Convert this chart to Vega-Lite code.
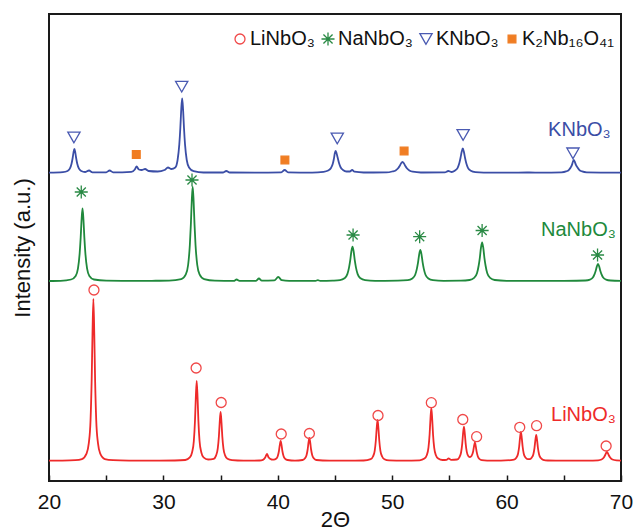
{
  "$schema": "https://vega.github.io/schema/vega-lite/v6.json",
  "width": 572,
  "height": 467,
  "autosize": {"type": "none"},
  "padding": {"left": 49, "top": 14, "right": 12, "bottom": 50},
  "background": "white",
  "config": {
    "font": "Liberation Sans",
    "view": {"stroke": "#1a1a1a", "strokeWidth": 2}
  },
  "datasets": {
    "curves": [
      {"sample":"LiNbO₃","x":20,"y":20.3},{"sample":"LiNbO₃","x":21,"y":20.4},{"sample":"LiNbO₃","x":22.3,"y":20.8},{"sample":"LiNbO₃","x":22.88,"y":21.9},{"sample":"LiNbO₃","x":23.28,"y":27.3},{"sample":"LiNbO₃","x":23.48,"y":37.8},{"sample":"LiNbO₃","x":23.63,"y":60.5},{"sample":"LiNbO₃","x":23.73,"y":101},{"sample":"LiNbO₃","x":23.8,"y":146},{"sample":"LiNbO₃","x":23.88,"y":182},{"sample":"LiNbO₃","x":23.96,"y":146},{"sample":"LiNbO₃","x":24.03,"y":101},{"sample":"LiNbO₃","x":24.13,"y":60.5},{"sample":"LiNbO₃","x":24.28,"y":37.8},{"sample":"LiNbO₃","x":24.48,"y":27.3},{"sample":"LiNbO₃","x":24.88,"y":21.9},{"sample":"LiNbO₃","x":25.6,"y":20.8},{"sample":"LiNbO₃","x":27,"y":20.4},{"sample":"LiNbO₃","x":29,"y":20.3},{"sample":"LiNbO₃","x":31,"y":20.5},{"sample":"LiNbO₃","x":31.91,"y":21},{"sample":"LiNbO₃","x":32.31,"y":23.6},{"sample":"LiNbO₃","x":32.51,"y":28.8},{"sample":"LiNbO₃","x":32.66,"y":40},{"sample":"LiNbO₃","x":32.76,"y":60},{"sample":"LiNbO₃","x":32.83,"y":82.4},{"sample":"LiNbO₃","x":32.91,"y":100},{"sample":"LiNbO₃","x":32.99,"y":82.4},{"sample":"LiNbO₃","x":33.06,"y":60},{"sample":"LiNbO₃","x":33.16,"y":40},{"sample":"LiNbO₃","x":33.31,"y":28.8},{"sample":"LiNbO₃","x":33.51,"y":23.6},{"sample":"LiNbO₃","x":33.91,"y":21.5},{"sample":"LiNbO₃","x":34.4,"y":22.2},{"sample":"LiNbO₃","x":34.6,"y":25.4},{"sample":"LiNbO₃","x":34.75,"y":32.3},{"sample":"LiNbO₃","x":34.85,"y":44.5},{"sample":"LiNbO₃","x":34.92,"y":58.2},{"sample":"LiNbO₃","x":35,"y":69},{"sample":"LiNbO₃","x":35.08,"y":58.2},{"sample":"LiNbO₃","x":35.15,"y":44.5},{"sample":"LiNbO₃","x":35.25,"y":32.3},{"sample":"LiNbO₃","x":35.4,"y":25.4},{"sample":"LiNbO₃","x":35.6,"y":22.2},{"sample":"LiNbO₃","x":36,"y":20.8},{"sample":"LiNbO₃","x":37,"y":20.3},{"sample":"LiNbO₃","x":38.4,"y":20.5},{"sample":"LiNbO₃","x":38.7,"y":21.2},{"sample":"LiNbO₃","x":38.9,"y":23.5},{"sample":"LiNbO₃","x":39.05,"y":27},{"sample":"LiNbO₃","x":39.2,"y":23.5},{"sample":"LiNbO₃","x":39.45,"y":21.5},{"sample":"LiNbO₃","x":39.65,"y":21.3},{"sample":"LiNbO₃","x":39.85,"y":22.2},{"sample":"LiNbO₃","x":40,"y":25},{"sample":"LiNbO₃","x":40.1,"y":30},{"sample":"LiNbO₃","x":40.17,"y":35.6},{"sample":"LiNbO₃","x":40.25,"y":40},{"sample":"LiNbO₃","x":40.33,"y":35.6},{"sample":"LiNbO₃","x":40.4,"y":30},{"sample":"LiNbO₃","x":40.5,"y":25},{"sample":"LiNbO₃","x":40.65,"y":22.2},{"sample":"LiNbO₃","x":40.85,"y":21},{"sample":"LiNbO₃","x":41.5,"y":20.4},{"sample":"LiNbO₃","x":42.16,"y":21},{"sample":"LiNbO₃","x":42.36,"y":22.5},{"sample":"LiNbO₃","x":42.51,"y":25.8},{"sample":"LiNbO₃","x":42.61,"y":31.5},{"sample":"LiNbO₃","x":42.68,"y":38},{"sample":"LiNbO₃","x":42.76,"y":43},{"sample":"LiNbO₃","x":42.84,"y":38},{"sample":"LiNbO₃","x":42.91,"y":31.5},{"sample":"LiNbO₃","x":43.01,"y":25.8},{"sample":"LiNbO₃","x":43.16,"y":22.5},{"sample":"LiNbO₃","x":43.36,"y":21},{"sample":"LiNbO₃","x":44.5,"y":20.3},{"sample":"LiNbO₃","x":46,"y":20.3},{"sample":"LiNbO₃","x":47.5,"y":20.5},{"sample":"LiNbO₃","x":48.12,"y":21.8},{"sample":"LiNbO₃","x":48.32,"y":24.5},{"sample":"LiNbO₃","x":48.47,"y":30.2},{"sample":"LiNbO₃","x":48.57,"y":40.5},{"sample":"LiNbO₃","x":48.64,"y":52},{"sample":"LiNbO₃","x":48.72,"y":61},{"sample":"LiNbO₃","x":48.8,"y":52},{"sample":"LiNbO₃","x":48.87,"y":40.5},{"sample":"LiNbO₃","x":48.97,"y":30.2},{"sample":"LiNbO₃","x":49.12,"y":24.5},{"sample":"LiNbO₃","x":49.32,"y":21.8},{"sample":"LiNbO₃","x":49.72,"y":20.6},{"sample":"LiNbO₃","x":51,"y":20.3},{"sample":"LiNbO₃","x":52.4,"y":20.7},{"sample":"LiNbO₃","x":52.82,"y":22.4},{"sample":"LiNbO₃","x":53.02,"y":25.8},{"sample":"LiNbO₃","x":53.17,"y":33.3},{"sample":"LiNbO₃","x":53.27,"y":46.5},{"sample":"LiNbO₃","x":53.34,"y":61.3},{"sample":"LiNbO₃","x":53.42,"y":73},{"sample":"LiNbO₃","x":53.5,"y":61.3},{"sample":"LiNbO₃","x":53.57,"y":46.5},{"sample":"LiNbO₃","x":53.67,"y":33.3},{"sample":"LiNbO₃","x":53.82,"y":25.8},{"sample":"LiNbO₃","x":54.02,"y":22.4},{"sample":"LiNbO₃","x":54.4,"y":21},{"sample":"LiNbO₃","x":54.75,"y":21.2},{"sample":"LiNbO₃","x":54.93,"y":22.5},{"sample":"LiNbO₃","x":55.15,"y":21.2},{"sample":"LiNbO₃","x":55.67,"y":21.5},{"sample":"LiNbO₃","x":55.87,"y":23.7},{"sample":"LiNbO₃","x":56.02,"y":28.5},{"sample":"LiNbO₃","x":56.12,"y":37.2},{"sample":"LiNbO₃","x":56.19,"y":46.8},{"sample":"LiNbO₃","x":56.27,"y":54.4},{"sample":"LiNbO₃","x":56.35,"y":47},{"sample":"LiNbO₃","x":56.42,"y":37.6},{"sample":"LiNbO₃","x":56.52,"y":29.1},{"sample":"LiNbO₃","x":56.67,"y":24.6},{"sample":"LiNbO₃","x":56.8,"y":23.9},{"sample":"LiNbO₃","x":56.93,"y":25},{"sample":"LiNbO₃","x":57.08,"y":29.8},{"sample":"LiNbO₃","x":57.15,"y":34.6},{"sample":"LiNbO₃","x":57.23,"y":38.5},{"sample":"LiNbO₃","x":57.31,"y":34.4},{"sample":"LiNbO₃","x":57.38,"y":29.3},{"sample":"LiNbO₃","x":57.48,"y":24.8},{"sample":"LiNbO₃","x":57.63,"y":22},{"sample":"LiNbO₃","x":57.83,"y":20.8},{"sample":"LiNbO₃","x":58.3,"y":20.4},{"sample":"LiNbO₃","x":59.5,"y":20.3},{"sample":"LiNbO₃","x":60.65,"y":21.3},{"sample":"LiNbO₃","x":60.85,"y":23.2},{"sample":"LiNbO₃","x":61,"y":27.3},{"sample":"LiNbO₃","x":61.1,"y":34.5},{"sample":"LiNbO₃","x":61.17,"y":42.6},{"sample":"LiNbO₃","x":61.25,"y":49},{"sample":"LiNbO₃","x":61.33,"y":42.6},{"sample":"LiNbO₃","x":61.4,"y":34.5},{"sample":"LiNbO₃","x":61.5,"y":27.3},{"sample":"LiNbO₃","x":61.65,"y":23.4},{"sample":"LiNbO₃","x":61.85,"y":21.8},{"sample":"LiNbO₃","x":62,"y":21.8},{"sample":"LiNbO₃","x":62.19,"y":23.3},{"sample":"LiNbO₃","x":62.34,"y":26.8},{"sample":"LiNbO₃","x":62.44,"y":33.2},{"sample":"LiNbO₃","x":62.51,"y":40.3},{"sample":"LiNbO₃","x":62.59,"y":46},{"sample":"LiNbO₃","x":62.67,"y":40.3},{"sample":"LiNbO₃","x":62.74,"y":33},{"sample":"LiNbO₃","x":62.84,"y":26.5},{"sample":"LiNbO₃","x":62.99,"y":22.9},{"sample":"LiNbO₃","x":63.19,"y":21.2},{"sample":"LiNbO₃","x":63.6,"y":20.5},{"sample":"LiNbO₃","x":65,"y":20.3},{"sample":"LiNbO₃","x":67,"y":20.4},{"sample":"LiNbO₃","x":68,"y":20.7},{"sample":"LiNbO₃","x":68.3,"y":21.5},{"sample":"LiNbO₃","x":68.5,"y":23.5},{"sample":"LiNbO₃","x":68.62,"y":26},{"sample":"LiNbO₃","x":68.7,"y":28},{"sample":"LiNbO₃","x":68.76,"y":29},{"sample":"LiNbO₃","x":68.84,"y":28},{"sample":"LiNbO₃","x":68.92,"y":26},{"sample":"LiNbO₃","x":69.05,"y":23.5},{"sample":"LiNbO₃","x":69.25,"y":21.5},{"sample":"LiNbO₃","x":69.6,"y":20.6},{"sample":"LiNbO₃","x":70,"y":20.4},

      {"sample":"NaNbO₃","x":20,"y":200},{"sample":"NaNbO₃","x":21,"y":200.2},{"sample":"NaNbO₃","x":21.93,"y":201.5},{"sample":"NaNbO₃","x":22.33,"y":205.1},{"sample":"NaNbO₃","x":22.53,"y":212.4},{"sample":"NaNbO₃","x":22.68,"y":227.6},{"sample":"NaNbO₃","x":22.77,"y":243.6},{"sample":"NaNbO₃","x":22.85,"y":261.8},{"sample":"NaNbO₃","x":22.93,"y":272.7},{"sample":"NaNbO₃","x":23.01,"y":261.8},{"sample":"NaNbO₃","x":23.09,"y":243.6},{"sample":"NaNbO₃","x":23.18,"y":227.6},{"sample":"NaNbO₃","x":23.33,"y":212.4},{"sample":"NaNbO₃","x":23.53,"y":205.1},{"sample":"NaNbO₃","x":23.93,"y":201.5},{"sample":"NaNbO₃","x":25,"y":200.3},{"sample":"NaNbO₃","x":27,"y":200.1},{"sample":"NaNbO₃","x":29,"y":200.2},{"sample":"NaNbO₃","x":30.5,"y":200.4},{"sample":"NaNbO₃","x":31.56,"y":201.9},{"sample":"NaNbO₃","x":31.96,"y":206.6},{"sample":"NaNbO₃","x":32.16,"y":216},{"sample":"NaNbO₃","x":32.31,"y":235.8},{"sample":"NaNbO₃","x":32.4,"y":256.6},{"sample":"NaNbO₃","x":32.48,"y":280.2},{"sample":"NaNbO₃","x":32.56,"y":294.3},{"sample":"NaNbO₃","x":32.64,"y":280.2},{"sample":"NaNbO₃","x":32.72,"y":256.6},{"sample":"NaNbO₃","x":32.81,"y":235.8},{"sample":"NaNbO₃","x":32.96,"y":216},{"sample":"NaNbO₃","x":33.16,"y":206.6},{"sample":"NaNbO₃","x":33.56,"y":201.9},{"sample":"NaNbO₃","x":34.5,"y":200.3},{"sample":"NaNbO₃","x":36.15,"y":200.1},{"sample":"NaNbO₃","x":36.4,"y":201.5},{"sample":"NaNbO₃","x":36.65,"y":200.2},{"sample":"NaNbO₃","x":38.1,"y":200.2},{"sample":"NaNbO₃","x":38.35,"y":202.5},{"sample":"NaNbO₃","x":38.6,"y":200.4},{"sample":"NaNbO₃","x":39.7,"y":200.6},{"sample":"NaNbO₃","x":40.04,"y":204},{"sample":"NaNbO₃","x":40.35,"y":200.8},{"sample":"NaNbO₃","x":41,"y":200.2},{"sample":"NaNbO₃","x":43.3,"y":200.1},{"sample":"NaNbO₃","x":43.5,"y":200.8},{"sample":"NaNbO₃","x":43.7,"y":200.1},{"sample":"NaNbO₃","x":44.8,"y":200.4},{"sample":"NaNbO₃","x":45.43,"y":200.9},{"sample":"NaNbO₃","x":45.83,"y":202.7},{"sample":"NaNbO₃","x":46.08,"y":206.9},{"sample":"NaNbO₃","x":46.23,"y":213.7},{"sample":"NaNbO₃","x":46.33,"y":220.6},{"sample":"NaNbO₃","x":46.43,"y":229.5},{"sample":"NaNbO₃","x":46.53,"y":234.3},{"sample":"NaNbO₃","x":46.63,"y":229.5},{"sample":"NaNbO₃","x":46.73,"y":220.6},{"sample":"NaNbO₃","x":46.83,"y":213.7},{"sample":"NaNbO₃","x":46.98,"y":206.9},{"sample":"NaNbO₃","x":47.23,"y":202.7},{"sample":"NaNbO₃","x":47.63,"y":200.9},{"sample":"NaNbO₃","x":48.5,"y":200.2},{"sample":"NaNbO₃","x":50.5,"y":200.3},{"sample":"NaNbO₃","x":51.36,"y":200.8},{"sample":"NaNbO₃","x":51.76,"y":202.5},{"sample":"NaNbO₃","x":52.01,"y":206.2},{"sample":"NaNbO₃","x":52.16,"y":212.4},{"sample":"NaNbO₃","x":52.26,"y":218.6},{"sample":"NaNbO₃","x":52.36,"y":226.7},{"sample":"NaNbO₃","x":52.46,"y":231},{"sample":"NaNbO₃","x":52.56,"y":226.7},{"sample":"NaNbO₃","x":52.66,"y":218.6},{"sample":"NaNbO₃","x":52.76,"y":212.4},{"sample":"NaNbO₃","x":52.91,"y":206.2},{"sample":"NaNbO₃","x":53.16,"y":202.5},{"sample":"NaNbO₃","x":53.56,"y":200.8},{"sample":"NaNbO₃","x":54.5,"y":200.2},{"sample":"NaNbO₃","x":56,"y":200.3},{"sample":"NaNbO₃","x":56.76,"y":201},{"sample":"NaNbO₃","x":57.16,"y":203.1},{"sample":"NaNbO₃","x":57.41,"y":207.7},{"sample":"NaNbO₃","x":57.56,"y":215.5},{"sample":"NaNbO₃","x":57.66,"y":223.2},{"sample":"NaNbO₃","x":57.76,"y":233.3},{"sample":"NaNbO₃","x":57.86,"y":238.7},{"sample":"NaNbO₃","x":57.96,"y":233.3},{"sample":"NaNbO₃","x":58.06,"y":223.2},{"sample":"NaNbO₃","x":58.16,"y":215.5},{"sample":"NaNbO₃","x":58.31,"y":207.7},{"sample":"NaNbO₃","x":58.56,"y":203.1},{"sample":"NaNbO₃","x":58.96,"y":201},{"sample":"NaNbO₃","x":60,"y":200.2},{"sample":"NaNbO₃","x":62.5,"y":200.1},{"sample":"NaNbO₃","x":65,"y":200.2},{"sample":"NaNbO₃","x":66.89,"y":200.5},{"sample":"NaNbO₃","x":67.29,"y":201.4},{"sample":"NaNbO₃","x":67.54,"y":203.4},{"sample":"NaNbO₃","x":67.69,"y":206.8},{"sample":"NaNbO₃","x":67.79,"y":210.2},{"sample":"NaNbO₃","x":67.89,"y":214.6},{"sample":"NaNbO₃","x":67.99,"y":217},{"sample":"NaNbO₃","x":68.09,"y":214.6},{"sample":"NaNbO₃","x":68.19,"y":210.2},{"sample":"NaNbO₃","x":68.29,"y":206.8},{"sample":"NaNbO₃","x":68.44,"y":203.4},{"sample":"NaNbO₃","x":68.69,"y":201.4},{"sample":"NaNbO₃","x":69.09,"y":200.5},{"sample":"NaNbO₃","x":70,"y":200.2},

      {"sample":"KNbO₃","x":20,"y":308.3},{"sample":"KNbO₃","x":21.22,"y":308.8},{"sample":"KNbO₃","x":21.62,"y":310},{"sample":"KNbO₃","x":21.82,"y":312.3},{"sample":"KNbO₃","x":21.97,"y":317.3},{"sample":"KNbO₃","x":22.06,"y":322.5},{"sample":"KNbO₃","x":22.14,"y":328.4},{"sample":"KNbO₃","x":22.22,"y":332},{"sample":"KNbO₃","x":22.3,"y":328.4},{"sample":"KNbO₃","x":22.38,"y":322.5},{"sample":"KNbO₃","x":22.47,"y":317.3},{"sample":"KNbO₃","x":22.62,"y":312.3},{"sample":"KNbO₃","x":22.82,"y":310},{"sample":"KNbO₃","x":23.15,"y":309},{"sample":"KNbO₃","x":23.5,"y":310.5},{"sample":"KNbO₃","x":23.8,"y":308.6},{"sample":"KNbO₃","x":25,"y":308.7},{"sample":"KNbO₃","x":25.3,"y":310.5},{"sample":"KNbO₃","x":25.6,"y":308.7},{"sample":"KNbO₃","x":27.2,"y":309.2},{"sample":"KNbO₃","x":27.5,"y":311.5},{"sample":"KNbO₃","x":27.66,"y":314.5},{"sample":"KNbO₃","x":27.85,"y":311.5},{"sample":"KNbO₃","x":28.1,"y":311},{"sample":"KNbO₃","x":28.4,"y":312},{"sample":"KNbO₃","x":28.7,"y":310},{"sample":"KNbO₃","x":29.5,"y":309.5},{"sample":"KNbO₃","x":30.1,"y":311},{"sample":"KNbO₃","x":30.4,"y":313.5},{"sample":"KNbO₃","x":30.7,"y":312},{"sample":"KNbO₃","x":31.04,"y":313.5},{"sample":"KNbO₃","x":31.24,"y":321},{"sample":"KNbO₃","x":31.39,"y":336.6},{"sample":"KNbO₃","x":31.48,"y":353},{"sample":"KNbO₃","x":31.56,"y":371.5},{"sample":"KNbO₃","x":31.64,"y":382.7},{"sample":"KNbO₃","x":31.72,"y":371.5},{"sample":"KNbO₃","x":31.8,"y":353},{"sample":"KNbO₃","x":31.89,"y":336.6},{"sample":"KNbO₃","x":32.04,"y":321},{"sample":"KNbO₃","x":32.24,"y":313.5},{"sample":"KNbO₃","x":32.64,"y":309.8},{"sample":"KNbO₃","x":33.5,"y":308.5},{"sample":"KNbO₃","x":35.2,"y":308.5},{"sample":"KNbO₃","x":35.5,"y":310},{"sample":"KNbO₃","x":35.8,"y":308.5},{"sample":"KNbO₃","x":38,"y":308.3},{"sample":"KNbO₃","x":40.3,"y":308.6},{"sample":"KNbO₃","x":40.6,"y":311},{"sample":"KNbO₃","x":40.9,"y":308.7},{"sample":"KNbO₃","x":43,"y":308.4},{"sample":"KNbO₃","x":44,"y":309.2},{"sample":"KNbO₃","x":44.4,"y":310.5},{"sample":"KNbO₃","x":44.65,"y":313},{"sample":"KNbO₃","x":44.8,"y":317},{"sample":"KNbO₃","x":44.9,"y":322},{"sample":"KNbO₃","x":44.98,"y":327.5},{"sample":"KNbO₃","x":45.05,"y":330},{"sample":"KNbO₃","x":45.13,"y":328},{"sample":"KNbO₃","x":45.23,"y":323.5},{"sample":"KNbO₃","x":45.35,"y":318},{"sample":"KNbO₃","x":45.5,"y":313.5},{"sample":"KNbO₃","x":45.7,"y":311},{"sample":"KNbO₃","x":46,"y":309.5},{"sample":"KNbO₃","x":46.3,"y":309.5},{"sample":"KNbO₃","x":46.5,"y":311},{"sample":"KNbO₃","x":46.7,"y":309.3},{"sample":"KNbO₃","x":47.5,"y":308.5},{"sample":"KNbO₃","x":49.5,"y":308.6},{"sample":"KNbO₃","x":50,"y":309.5},{"sample":"KNbO₃","x":50.3,"y":310.6},{"sample":"KNbO₃","x":50.5,"y":312.5},{"sample":"KNbO₃","x":50.65,"y":315},{"sample":"KNbO₃","x":50.78,"y":317.8},{"sample":"KNbO₃","x":50.9,"y":319},{"sample":"KNbO₃","x":51.02,"y":317.8},{"sample":"KNbO₃","x":51.15,"y":315},{"sample":"KNbO₃","x":51.3,"y":312.5},{"sample":"KNbO₃","x":51.5,"y":310.6},{"sample":"KNbO₃","x":51.8,"y":309.3},{"sample":"KNbO₃","x":52.5,"y":308.5},{"sample":"KNbO₃","x":54.6,"y":308.6},{"sample":"KNbO₃","x":54.9,"y":310},{"sample":"KNbO₃","x":55.2,"y":309},{"sample":"KNbO₃","x":55.47,"y":310.3},{"sample":"KNbO₃","x":55.72,"y":313.2},{"sample":"KNbO₃","x":55.87,"y":318},{"sample":"KNbO₃","x":55.97,"y":323},{"sample":"KNbO₃","x":56.07,"y":329},{"sample":"KNbO₃","x":56.17,"y":332.7},{"sample":"KNbO₃","x":56.27,"y":329},{"sample":"KNbO₃","x":56.37,"y":323},{"sample":"KNbO₃","x":56.47,"y":318},{"sample":"KNbO₃","x":56.62,"y":313.2},{"sample":"KNbO₃","x":56.87,"y":310.3},{"sample":"KNbO₃","x":57.27,"y":308.9},{"sample":"KNbO₃","x":58,"y":308.4},{"sample":"KNbO₃","x":60,"y":308.3},{"sample":"KNbO₃","x":62,"y":308.5},{"sample":"KNbO₃","x":63,"y":308.3},{"sample":"KNbO₃","x":64.8,"y":308.7},{"sample":"KNbO₃","x":65.2,"y":309.6},{"sample":"KNbO₃","x":65.45,"y":311.2},{"sample":"KNbO₃","x":65.6,"y":313.5},{"sample":"KNbO₃","x":65.72,"y":316.4},{"sample":"KNbO₃","x":65.8,"y":319.5},{"sample":"KNbO₃","x":65.87,"y":321},{"sample":"KNbO₃","x":65.95,"y":319.5},{"sample":"KNbO₃","x":66.05,"y":316.4},{"sample":"KNbO₃","x":66.2,"y":313.5},{"sample":"KNbO₃","x":66.35,"y":311.2},{"sample":"KNbO₃","x":66.6,"y":309.6},{"sample":"KNbO₃","x":67,"y":308.7},{"sample":"KNbO₃","x":70,"y":308.3}
    ],
    "markers": [
      {"phase":"LiNbO₃","x":23.93,"y":191},{"phase":"LiNbO₃","x":32.86,"y":113},{"phase":"LiNbO₃","x":35.05,"y":78.5},{"phase":"LiNbO₃","x":40.3,"y":47},{"phase":"LiNbO₃","x":42.76,"y":47.5},{"phase":"LiNbO₃","x":48.76,"y":65.5},{"phase":"LiNbO₃","x":53.42,"y":78.3},{"phase":"LiNbO₃","x":56.17,"y":61.5},{"phase":"LiNbO₃","x":57.38,"y":44.3},{"phase":"LiNbO₃","x":61.15,"y":53.7},{"phase":"LiNbO₃","x":62.62,"y":55.3},{"phase":"LiNbO₃","x":68.7,"y":35},
      {"phase":"NaNbO₃","x":22.82,"y":289},{"phase":"NaNbO₃","x":32.5,"y":301},{"phase":"NaNbO₃","x":46.58,"y":246},{"phase":"NaNbO₃","x":52.4,"y":244.3},{"phase":"NaNbO₃","x":57.86,"y":250.5},{"phase":"NaNbO₃","x":67.95,"y":226},
      {"phase":"KNbO₃","x":22.18,"y":343.5},{"phase":"KNbO₃","x":31.6,"y":394.3},{"phase":"KNbO₃","x":45.2,"y":342.5},{"phase":"KNbO₃","x":56.2,"y":346},{"phase":"KNbO₃","x":65.8,"y":327.7},
      {"phase":"K₂Nb₁₆O₄₁","x":27.63,"y":326.5},{"phase":"K₂Nb₁₆O₄₁","x":40.62,"y":321},{"phase":"K₂Nb₁₆O₄₁","x":51.04,"y":330}
    ],
    "labels": [
      {"sample":"KNbO₃","x":69.1,"y":351},
      {"sample":"NaNbO₃","x":69.55,"y":251},
      {"sample":"LiNbO₃","x":69.55,"y":66}
    ]
  },
  "encoding": {
    "x": {
      "field": "x", "type": "quantitative", "title": "2Θ",
      "scale": {"domain": [20, 70], "nice": false, "zero": false},
      "axis": {
        "values": [20, 25, 30, 35, 40, 45, 50, 55, 60, 65, 70],
        "labelExpr": "datum.value % 10 === 0 ? datum.label : ''",
        "grid": false, "domain": false,
        "tickSize": -6, "tickColor": "#1a1a1a", "tickWidth": 1.5,
        "labelFontSize": 21, "labelColor": "#111", "labelPadding": 16,
        "labelFlush": false, "labelOverlap": false,
        "titleFontSize": 22, "titleFontWeight": "normal", "titleColor": "#111", "titlePadding": -3
      }
    },
    "y": {
      "field": "y", "type": "quantitative", "title": "Intensity (a.u.)",
      "scale": {"domain": [0, 467], "nice": false, "zero": false},
      "axis": {
        "labels": false, "ticks": false, "grid": false, "domain": false,
        "titleFontSize": 22, "titleFontWeight": "normal", "titleColor": "#111", "titlePadding": 15
      }
    }
  },
  "layer": [
    {
      "data": {"name": "curves"},
      "mark": {"type": "line", "strokeWidth": 1.8, "interpolate": "monotone"},
      "encoding": {
        "color": {
          "field": "sample", "type": "nominal",
          "scale": {"domain": ["LiNbO₃", "NaNbO₃", "KNbO₃"], "range": ["#ee2a2a", "#20893c", "#3b4ea6"]},
          "legend": null
        }
      }
    },
    {
      "data": {"name": "markers"},
      "mark": {"type": "point", "strokeWidth": 1.3, "opacity": 1},
      "encoding": {
        "shape": {
          "field": "phase", "type": "nominal",
          "scale": {"domain": ["LiNbO₃", "NaNbO₃", "KNbO₃", "K₂Nb₁₆O₄₁"], "range": ["circle", "M0,-1L0,1M-1,0L1,0M-0.7,-0.7L0.7,0.7M-0.7,0.7L0.7,-0.7", "triangle-down", "square"]},
          "legend": {"orient": "none", "legendX": 181, "legendY": 15, "direction": "horizontal", "title": null, "labelFontSize": 20, "labelColor": "#111", "labelOffset": 0, "columnPadding": 3, "padding": 0, "symbolStrokeWidth": 1.3}
        },
        "stroke": {
          "field": "phase", "type": "nominal",
          "scale": {"domain": ["LiNbO₃", "NaNbO₃", "KNbO₃", "K₂Nb₁₆O₄₁"], "range": ["#f04848", "#2a8a45", "#4a5ab2", "#f07d23"]},
          "legend": {"orient": "none", "legendX": 181, "legendY": 15, "direction": "horizontal", "title": null, "labelFontSize": 20, "labelColor": "#111", "labelOffset": 0, "columnPadding": 3, "padding": 0, "symbolStrokeWidth": 1.3}
        },
        "fill": {
          "field": "phase", "type": "nominal",
          "scale": {"domain": ["LiNbO₃", "NaNbO₃", "KNbO₃", "K₂Nb₁₆O₄₁"], "range": ["transparent", "transparent", "transparent", "#f07d23"]},
          "legend": {"orient": "none", "legendX": 181, "legendY": 15, "direction": "horizontal", "title": null, "labelFontSize": 20, "labelColor": "#111", "labelOffset": 0, "columnPadding": 3, "padding": 0, "symbolStrokeWidth": 1.3}
        },
        "size": {
          "field": "phase", "type": "nominal",
          "scale": {"type": "ordinal", "domain": ["LiNbO₃", "NaNbO₃", "KNbO₃", "K₂Nb₁₆O₄₁"], "range": [100, 170, 150, 60]},
          "legend": {"orient": "none", "legendX": 181, "legendY": 15, "direction": "horizontal", "title": null, "labelFontSize": 20, "labelColor": "#111", "labelOffset": 0, "columnPadding": 3, "padding": 0, "symbolStrokeWidth": 1.3}
        }
      }
    },
    {
      "data": {"name": "labels"},
      "mark": {"type": "text", "fontSize": 20, "align": "right", "baseline": "middle"},
      "encoding": {
        "text": {"field": "sample", "type": "nominal"},
        "color": {
          "field": "sample", "type": "nominal",
          "scale": {"domain": ["LiNbO₃", "NaNbO₃", "KNbO₃"], "range": ["#ee2a2a", "#20893c", "#3b4ea6"]},
          "legend": null
        }
      }
    }
  ]
}
